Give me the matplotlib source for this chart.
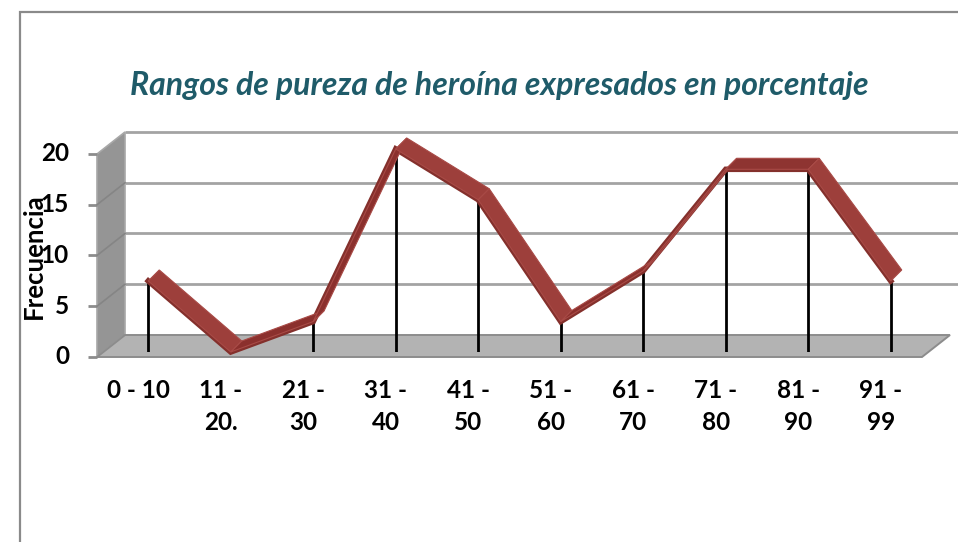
import matplotlib
matplotlib.use("Agg")
import matplotlib.pyplot as plt
from matplotlib.patches import Polygon, Rectangle

# datos
categorias = ["0 - 10", "11 -\n20.", "21 -\n30", "31 -\n40", "41 -\n50",
              "51 -\n60", "61 -\n70", "71 -\n80", "81 -\n90", "91 -\n99"]
frecuencia = [7, 0, 3, 20, 15, 3, 8, 18, 18, 7]
yticks = [0, 5, 10, 15, 20]
titulo = "Rangos de pureza de heroína expresados en porcentaje"

plt.rcParams["font.family"] = ["Lato", "DejaVu Sans"]

W, H = 958, 542
fig = plt.figure(figsize=(W / 100, H / 100), dpi=100)
fig.patch.set_facecolor("white")

# borde del area del grafico
fig.patches.append(Rectangle((20 / W, -0.1), 1.2, 1 - 12 / H + 0.1,
                             transform=fig.transFigure, fill=False,
                             edgecolor="#8a8a8a", lw=1.6))

# plano de la serie (pixeles)
left, right, bottom, top = 107, 932, 352, 149
ax = fig.add_axes([left / W, (H - bottom) / H, (right - left) / W, (bottom - top) / H])
ax.set_xlim(-0.5, 9.5)
ax.set_ylim(0, 20)
ax.axis("off")

PX_X = (right - left) / 10.0
PX_Y = (bottom - top) / 20.0

# desplazamientos de profundidad
FX, FY = -10 / PX_X, -5 / PX_Y     # plano frontal
BX, BY = 18 / PX_X, 17 / PX_Y      # pared del fondo
RX, RY = 11 / PX_X, 11 / PX_Y      # grosor de la cinta

x0, x1 = -0.5, 9.5

# pared del fondo: lineas de division
for v in yticks[1:]:
    ax.plot([x0 + BX, x1 + BX + 10 / PX_X], [v + BY, v + BY], color="#a3a3a3",
            lw=2.0, clip_on=False, zorder=1, solid_capstyle="butt")

# pared lateral
side = Polygon([(x0 + FX, 0 + FY), (x0 + FX, 20 + FY), (x0 + BX, 20 + BY), (x0 + BX, 0 + BY)],
               closed=True, facecolor="#959595", edgecolor="#a8a8a8", lw=1.2,
               clip_on=False, zorder=2)
ax.add_patch(side)
for v in yticks[1:-1]:
    ax.plot([x0 + FX, x0 + BX], [v + FY, v + BY], color="#858585", lw=1.2,
            clip_on=False, zorder=2.1)

# piso
floor = Polygon([(x0 + FX, 0 + FY), (x1 + FX, 0 + FY), (x1 + BX, 0 + BY), (x0 + BX, 0 + BY)],
                closed=True, facecolor="#b3b3b3", edgecolor="#8c8c8c", lw=1.4,
                clip_on=False, zorder=2)
ax.add_patch(floor)

# marcas del eje vertical
for v in yticks:
    ax.plot([x0 + FX - 9 / PX_X, x0 + FX], [v + FY, v + FY], color="#8c8c8c",
            lw=2.0, clip_on=False, zorder=2, solid_capstyle="butt")
    ax.text(x0 + FX - 28 / PX_X, v + FY, str(v), ha="right", va="center",
            fontsize=17.5, fontweight="bold", color="black")

# lineas de caida
xs = list(range(len(frecuencia)))
ax.vlines(xs, 0, frecuencia, colors="black", lw=2.0, zorder=3)

# cinta 3D
ax.plot(xs, frecuencia, color="#84302c", lw=4.0, solid_joinstyle="miter",
        clip_on=False, zorder=3.9)
for i in range(len(frecuencia) - 1):
    ya, yb = frecuencia[i], frecuencia[i + 1]
    if yb < ya:
        fc = "#9d3f3b"
    elif yb > ya:
        fc = "#8b302d"
    else:
        fc = "#8e3431"
    seg = Polygon([(i, ya), (i + 1, yb), (i + 1 + RX, yb + RY), (i + RX, ya + RY)],
                  closed=True, facecolor=fc, edgecolor="#a84a46", lw=0.8,
                  clip_on=False, zorder=4 + i * 0.01)
    ax.add_patch(seg)

# etiquetas de categorias
for i, lab in enumerate(categorias):
    ax.text(i + FX, FY - 22 / PX_Y, lab, ha="center", va="top", fontsize=17.5,
            fontweight="bold", color="black", linespacing=1.5)

# titulo del eje
ax.text(x0 + (34 - left) / PX_X, (bottom - 256) / PX_Y, "Frecuencia", rotation=90,
        ha="center", va="center", fontsize=18.5, fontweight="bold", color="black")

# titulo
fig.text(499 / W, 1 - 86 / H, titulo, ha="center", va="center", fontsize=23,
         fontweight="bold", fontstyle="italic", color="#1f5b69")

fig.savefig("out.png", dpi=100)
